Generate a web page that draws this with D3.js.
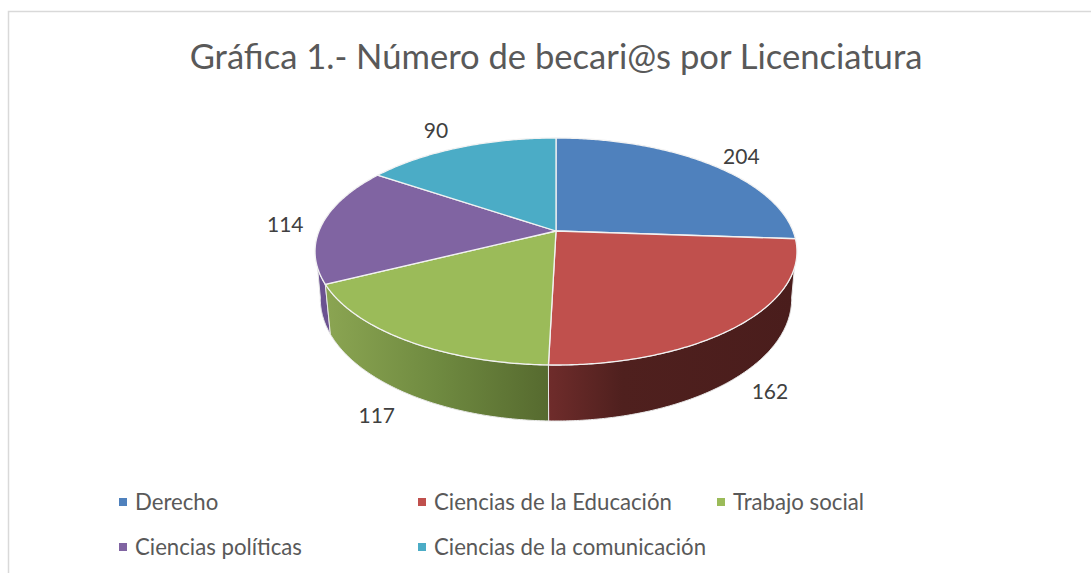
<!DOCTYPE html>
<html>
<head>
<meta charset="utf-8">
<script src="https://cdn.jsdelivr.net/npm/d3@7"></script>
<style>
  html, body { margin: 0; background: #fff; }
  svg { display: block; }
  text { font-family: Lato, "Open Sans", sans-serif; }
</style>
</head>
<body>
<svg id="chart" width="1091" height="573"></svg>
<script>
const categories = ['Derecho', 'Ciencias de la Educación', 'Trabajo social', 'Ciencias políticas', 'Ciencias de la comunicación'];
// the numbers printed on the chart
const printedValues = [204, 162, 117, 114, 90];
// the wedges in the source don't quite agree with the printed numbers,
// so their sizes (degrees) are measured off the picture
const wedgeDegrees = [94, 87.5, 62, 60.5, 56];

const colors = ['#4f81bd', '#c0504d', '#9bbb59', '#8064a2', '#4bacc6'];

const width = 1091,
      height = 573;

const svg = d3.select('#chart');

// Set up perspective - disc coords (u right, v away from viewer) to screen
const cx = 556,
      cy = 251.5,
      ry = 113.5,
      rx = 237,
      hubShift = 20.5, // the pie centre sits above the middle of the ellipse
      tilt = 2 * hubShift / (2 * ry);

const topRim = (u, v) => {
  const w = 1 + tilt * v;
  return [cx + rx * u / w, cy - (ry * v + hubShift) / w];
};

// bottom rim is the top rim shifted down and squeezed a bit
const xBottom = d3.scaleLinear().domain([cx - 100, cx + 100]).range([cx - 97.8, cx + 97.8]);
const yBottom = d3.scaleLinear().domain([285, 365]).range([335, 421]);
const bottomRim = (u, v) => {
  const p = topRim(u, v);
  return [xBottom(p[0]), yBottom(p[1])];
};

const arcPoints = (rim, a0, a1) => {
  const n = Math.ceil((a1 - a0) / 0.01);
  return d3.range(n + 1).map(i => {
    const a = a0 + (a1 - a0) * i / n;
    return rim(Math.sin(a), Math.cos(a));
  });
};

const rad = d => d * Math.PI / 180;
const line = d3.line();

const slices = d3.pie().sort(null).value(d => d)(wedgeDegrees);

// gradients for the side walls
const defs = svg.append('defs');
const addGradient = (id, stops) => {
  const g = defs.append('linearGradient').attr('id', id);
  stops.forEach(s => g.append('stop').attr('offset', s[0]).attr('stop-color', s[1]));
};
addGradient('wallRed', [[0, '#6f2c2b'], [0.3, '#4f201e'], [1, '#4a1d1c']]);
addGradient('wallGreen', [[0, '#8ba552'], [0.5, '#6f8a40'], [1, '#566a2f']]);

svg.append('rect').attr('width', width).attr('height', height).attr('fill', '#fff');

// chart frame, open on the right and bottom
svg.append('path')
  .attr('d', line([[8.5, height], [8.5, 11.5], [width, 11.5]]))
  .attr('fill', 'none')
  .attr('stroke', '#d9d9d9')
  .attr('stroke-width', 1.5);

svg.append('text')
  .attr('x', 556)
  .attr('y', 69)
  .attr('text-anchor', 'middle')
  .attr('font-size', 34.6)
  .attr('fill', '#595959')
  .text('Gráfica 1.- Número de becari@s por Licenciatura');

// side walls, back to front. Only these three show.
// The outline leaves the top rim a bit lower than it reaches the bottom rim,
// so the two arcs get clamped to different angles
const walls = [[3, '#6b5290'], [1, 'url(#wallRed)'], [2, 'url(#wallGreen)']];
walls.forEach(w => {
  const s = slices[w[0]];
  const top = arcPoints(topRim, Math.max(s.startAngle, rad(108.5)), Math.min(s.endAngle, rad(251.5)));
  const bottom = arcPoints(bottomRim, Math.max(s.startAngle, rad(100)), Math.min(s.endAngle, rad(260))).reverse();
  svg.append('path')
    .attr('d', line(top.concat(bottom)) + 'Z')
    .attr('fill', w[1])
    .attr('stroke', '#e8e8e8')
    .attr('stroke-width', 1);
});

// top face
svg.selectAll('.slice')
    .data(slices)
  .enter().append('path')
    .attr('class', 'slice')
    .attr('d', d => line([topRim(0, 0)].concat(arcPoints(topRim, d.startAngle, d.endAngle))) + 'Z')
    .attr('fill', (d, i) => colors[i])
    .attr('stroke', '#f2f2f2')
    .attr('stroke-width', 1.3)
    .attr('stroke-linejoin', 'round');

// data labels, pushed out from the middle of each wedge's rim
const labelOffsets = [[31, -8], [30, 67], [-29, 75], [-37, 1], [-24, -17]];
svg.selectAll('.value')
    .data(slices)
  .enter().append('text')
    .attr('class', 'value')
    .attr('x', (d, i) => {
      const a = (d.startAngle + d.endAngle) / 2;
      return topRim(Math.sin(a), Math.cos(a))[0] + labelOffsets[i][0];
    })
    .attr('y', (d, i) => {
      const a = (d.startAngle + d.endAngle) / 2;
      return topRim(Math.sin(a), Math.cos(a))[1] + labelOffsets[i][1];
    })
    .attr('dy', '0.35em')
    .attr('text-anchor', 'middle')
    .attr('font-size', 21)
    .attr('fill', '#404040')
    .text((d, i) => printedValues[i]);

// legend - 3 columns
const legendX = d3.scalePoint().domain([0, 1, 2]).range([119, 717]);
const legendY = d3.scalePoint().domain([0, 1]).range([502, 547]);

const legend = svg.selectAll('.legend')
    .data(categories)
  .enter().append('g')
    .attr('class', 'legend')
    .attr('transform', (d, i) => `translate(${legendX(i % 3)},${legendY(Math.floor(i / 3))})`);

legend.append('rect')
  .attr('y', -4)
  .attr('width', 8)
  .attr('height', 8)
  .attr('fill', (d, i) => colors[i]);

legend.append('text')
  .attr('x', 16)
  .attr('dy', '0.35em')
  .attr('font-size', 22.2)
  .attr('fill', '#595959')
  .text(d => d);
</script>
</body>
</html>
